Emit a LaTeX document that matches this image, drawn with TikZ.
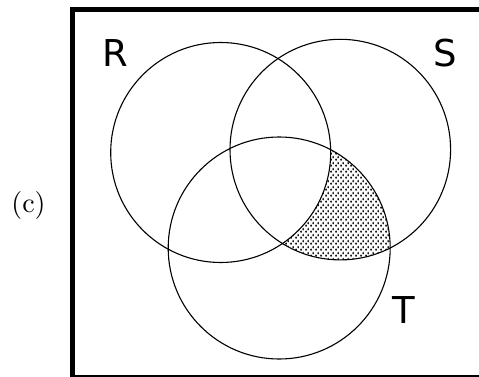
\documentclass[tikz,border=0pt]{standalone}
\usepackage{fontspec}
\newfontfamily\setfont{DejaVu Sans}
\newfontfamily\tagfont{lmroman10-regular}[Extension=.otf]
\usetikzlibrary{patterns}

% staggered dot fill for the shaded part
\pgfdeclarepatternformonly{venndots}{\pgfpointorigin}{\pgfqpoint{5pt}{6pt}}{\pgfqpoint{5pt}{6pt}}{%
    \pgfpathellipse{\pgfqpoint{1.25pt}{1.5pt}}{\pgfqpoint{1pt}{0pt}}{\pgfqpoint{0pt}{1.7pt}}%
    \pgfpathellipse{\pgfqpoint{3.75pt}{4.5pt}}{\pgfqpoint{1pt}{0pt}}{\pgfqpoint{0pt}{1.7pt}}%
    \pgfusepath{fill}}

\begin{document}
\begin{tikzpicture}[x=1pt, y=-1pt,
    set/.style={draw, line width=1.1pt},
    setname/.style={font=\setfont\fontsize{37}{37}\selectfont, inner sep=0pt},
    tag/.style={font=\tagfont\fontsize{28}{28}\selectfont, inner sep=0pt}]
    \useasboundingbox (0,0) rectangle (479,377);
    \coordinate (R) at (220.7,152.5);
    \coordinate (S) at (340.3,149.6);
    \coordinate (T) at (279.2,248);
    % shaded: inside S and T, outside R
    \begin{scope}
        \clip (S) circle (110.3pt);
        \clip (T) circle (111pt);
        \fill[pattern=venndots, even odd rule] (0,0) rectangle (479,377) (R) circle (110pt);
    \end{scope}
    \draw[set] (R) circle (110pt);
    \draw[set] (S) circle (110.3pt);
    \draw[set] (T) circle (111pt);
    \draw[line width=5pt] (72.5,9.5) rectangle (484,377.5);
    \node[setname] (nameR) at (115,53.5) {R};
    \node[setname] (nameS) at (445,53) {S};
    \node[setname] (nameT) at (404,310) {T};
    \node[tag] (part) at (28.5,205) {(c)};
\end{tikzpicture}
\end{document}
